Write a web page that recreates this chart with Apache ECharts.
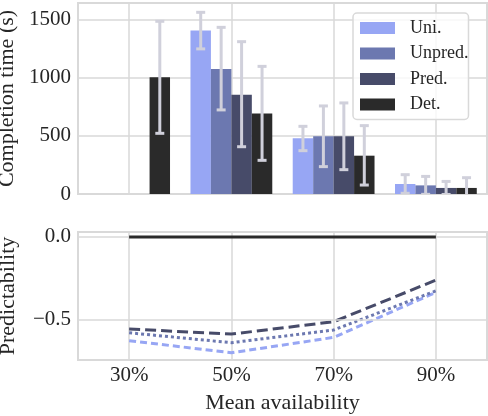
<!DOCTYPE html>
<html>
<head>
<meta charset="utf-8">
<script src="https://cdn.jsdelivr.net/npm/echarts@6/dist/echarts.min.js"></script>
<style>
  html, body { margin: 0; padding: 0; background: #fff; }
  #main { width: 488px; height: 416px; }
</style>
</head>
<body>
<div id="main"></div>
<script>
// categories and names
var cats = ['30%', '50%', '70%', '90%'];
var names = ['Uni.', 'Unpred.', 'Pred.', 'Det.'];
var colors = ['#97a6f4', '#6c78b0', '#474b69', '#2a2a2a'];

// completion time (s): mean and error bar ends, null = missing
var uniMean    = [null, 1403, 478, 86];
var unpredMean = [null, 1074, 495, 74];
var predMean   = [null, 853, 495, 52];
var detMean    = [1002, 692, 329, 52];

var uniLow     = [null, 1246, 372, 6];
var uniHigh    = [null, 1560, 581, 166];
var unpredLow  = [null, 722, 235, -3];
var unpredHigh = [null, 1431, 756, 151];
var predLow    = [null, 406, 209, -4];
var predHigh   = [null, 1308, 782, 108];
var detLow     = [521, 289, 77, -36];
var detHigh    = [1483, 1096, 587, 140];

// predictability
var uniPred    = [-0.629, -0.702, -0.609, -0.336];
var unpredPred = [-0.581, -0.641, -0.564, -0.327];
var predPred   = [-0.558, -0.589, -0.514, -0.262];
var detPred    = [0, 0, 0, 0];

// tick values of the lower panel
var bottomTicks = [0, -0.5];

var means = [uniMean, unpredMean, predMean, detMean];
var lows = [uniLow, unpredLow, predLow, detLow];
var highs = [uniHigh, unpredHigh, predHigh, detHigh];
var preds = [uniPred, unpredPred, predPred, detPred];
var dashes = [[7, 4], [3, 3], [11, 5], 'solid'];

var font = 'Liberation Serif';
var txt = '#262626';
var gridCol = '#d9d9d9';
var errCol = '#d0d0db';

var chart = echarts.init(document.getElementById('main'));

function errRender(idx) {
  return function (params, api) {
    var c = api.value(0);
    var p1 = api.coord([c, api.value(1)]);
    var p2 = api.coord([c, api.value(2)]);
    var band = api.size([1, 0])[0];
    var x = p1[0] + (idx - 1.5) * band * 0.2;
    var w = 4.5;
    var st = { stroke: errCol, lineWidth: 3 };
    return {
      type: 'group',
      children: [
        { type: 'line', shape: { x1: x, y1: p1[1], x2: x, y2: p2[1] }, style: st },
        { type: 'line', shape: { x1: x - w, y1: p2[1], x2: x + w, y2: p2[1] }, style: st },
        { type: 'line', shape: { x1: x - w, y1: p1[1], x2: x + w, y2: p1[1] }, style: st }
      ]
    };
  };
}

var series = [];
names.forEach(function (n, i) {
  series.push({
    name: n, type: 'bar', xAxisIndex: 0, yAxisIndex: 0,
    data: means[i].map(function (v) { return v == null ? '-' : v; }),
    barGap: '0%', barCategoryGap: '20%',
    itemStyle: { color: colors[i] }, z: 2
  });
});
names.forEach(function (n, i) {
  var d = [];
  cats.forEach(function (c, k) {
    if (means[i][k] != null) d.push([k, lows[i][k], highs[i][k]]);
  });
  series.push({
    type: 'custom', xAxisIndex: 0, yAxisIndex: 0, renderItem: errRender(i),
    data: d, clip: true, z: 3, silent: true
  });
});
// gridlines for the lower panel
series.push({
  type: 'line', xAxisIndex: 1, yAxisIndex: 1, data: [], z: 1, silent: true,
  markLine: {
    symbol: 'none', silent: true, label: { show: false },
    lineStyle: { color: gridCol, width: 1.5, type: 'solid' },
    data: bottomTicks.map(function (v) { return { yAxis: v }; })
  }
});
names.forEach(function (n, i) {
  series.push({
    name: n, type: 'line', xAxisIndex: 1, yAxisIndex: 1,
    data: preds[i], symbol: 'none', z: 3 + (i === 3 ? 2 : 0),
    lineStyle: { color: colors[i], width: 3, type: dashes[i] },
    itemStyle: { color: colors[i] }
  });
});

chart.setOption({
  animation: false,
  grid: [
    { left: 78, right: 1, top: 3, height: 191, show: true, borderColor: gridCol, borderWidth: 2,
      outerBoundsMode: 'none', containLabel: false },
    { left: 78, right: 1, top: 232, height: 128, show: true, borderColor: gridCol, borderWidth: 2,
      outerBoundsMode: 'none', containLabel: false }
  ],
  legend: {
    data: names.map(function (n) { return { name: n, icon: 'rect' }; }),
    orient: 'vertical', left: 353, top: 13,
    itemWidth: 35, itemHeight: 12, itemGap: 5.5,
    padding: [5, 0, 5, 7],
    borderColor: gridCol, borderWidth: 1.5, borderRadius: 4,
    backgroundColor: 'rgba(255,255,255,0.8)',
    textStyle: { fontFamily: font, fontSize: 18, color: txt, lineHeight: 20, padding: [0, 0, 0, 10] }
  },
  xAxis: [
    {
      type: 'category', gridIndex: 0, data: cats,
      axisLine: { show: false }, axisTick: { show: false, alignWithLabel: true },
      axisLabel: { show: false },
      splitLine: { show: true, alignWithLabel: true, lineStyle: { color: gridCol, width: 1.5 } }
    },
    {
      type: 'category', gridIndex: 1, data: cats, boundaryGap: true,
      axisLine: { show: false }, axisTick: { show: false, alignWithLabel: true },
      axisLabel: { fontFamily: font, fontSize: 21, color: txt, margin: 5 },
      splitLine: { show: true, alignWithLabel: true, lineStyle: { color: gridCol, width: 1.5 } },
      name: 'Mean availability', nameLocation: 'middle', nameGap: 32,
      nameTextStyle: { fontFamily: font, fontSize: 22, color: txt }
    }
  ],
  yAxis: [
    {
      type: 'value', gridIndex: 0, min: 0, max: 1640, interval: 500,
      axisLine: { show: false }, axisTick: { show: false },
      axisLabel: { fontFamily: font, fontSize: 21, color: txt, margin: 7, showMaxLabel: false,
        formatter: function (v) { return String(v); } },
      splitLine: { lineStyle: { color: gridCol, width: 1.5 } },
      name: 'Completion time (s)', nameLocation: 'middle', nameGap: 57, nameRotate: 90,
      nameTextStyle: { fontFamily: font, fontSize: 22, color: txt }
    },
    {
      type: 'value', gridIndex: 1, min: -0.746, max: 0.03,
      axisLine: { show: false }, axisTick: { show: false },
      axisLabel: {
        fontFamily: font, fontSize: 21, color: txt, margin: 7,
        customValues: bottomTicks,
        formatter: function (v) { return (v < 0 ? '\u2212' : '') + Math.abs(v).toFixed(1); }
      },
      splitLine: { show: false },
      name: 'Predictability', nameLocation: 'middle', nameGap: 59, nameRotate: 90,
      nameTextStyle: { fontFamily: font, fontSize: 22, color: txt }
    }
  ],
  series: series
});
</script>
</body>
</html>
